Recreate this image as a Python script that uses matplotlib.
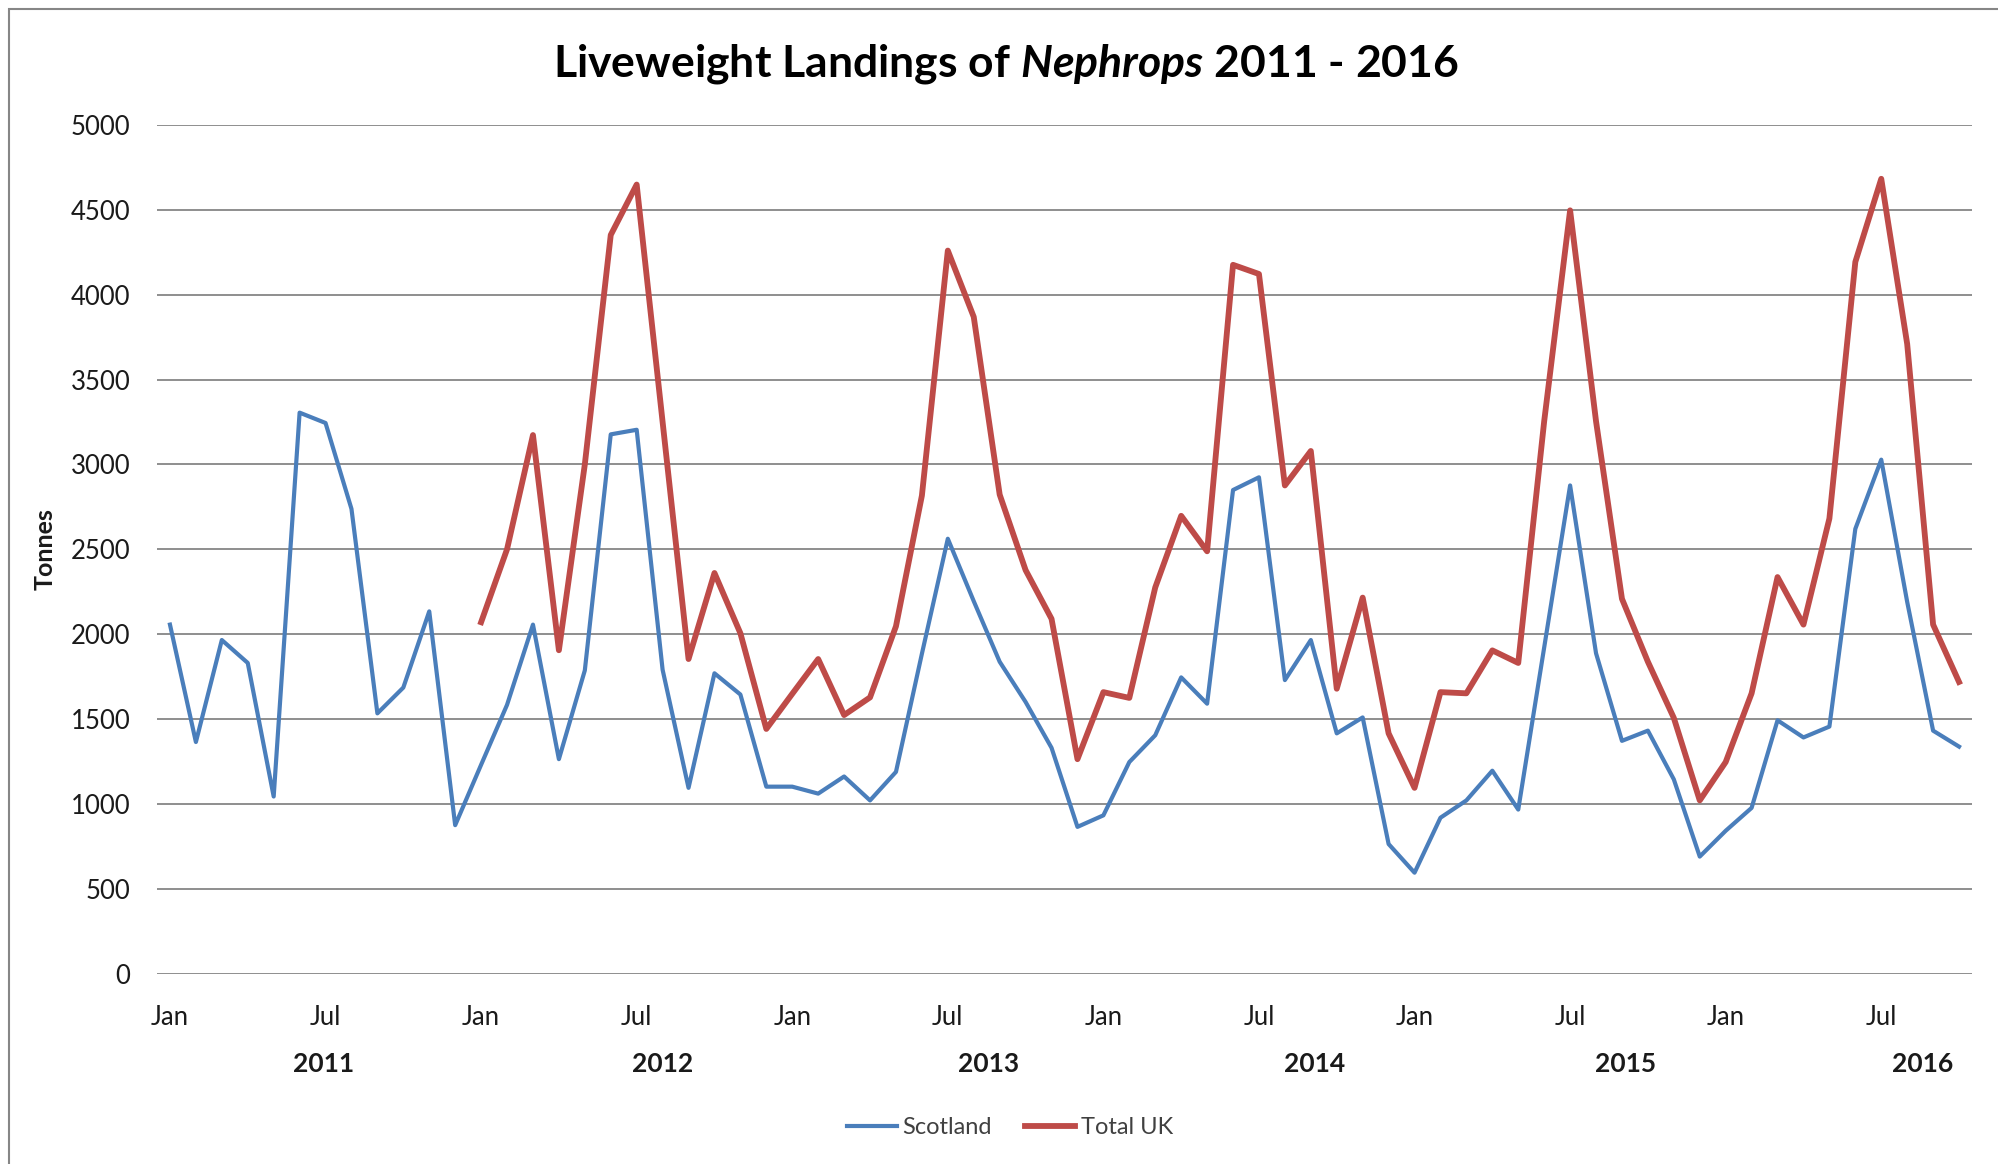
import numpy as np
import matplotlib
matplotlib.use('Agg')
import matplotlib.pyplot as plt
from matplotlib.patches import Rectangle
from matplotlib.transforms import blended_transform_factory

plt.rcParams['font.family'] = ['Lato', 'DejaVu Sans']
plt.rcParams['mathtext.fontset'] = 'custom'
plt.rcParams['mathtext.it'] = 'Lato:italic:bold'
plt.rcParams['mathtext.rm'] = 'Lato:bold'

# monthly landings (tonnes), Jan 2011 - Oct 2016
scotland = [
    2056, 1364, 1965, 1830, 1043, 3305, 3244, 2738, 1533, 1685, 2134, 874,   # 2011
    1230, 1583, 2056, 1263, 1786, 3177, 3204, 1790, 1094, 1769, 1644, 1101,  # 2012
    1101, 1060, 1161, 1020, 1188, 1884, 2562, 2194, 1837, 1600, 1330, 864,   # 2013
    932, 1246, 1404, 1745, 1590, 2849, 2924, 1729, 1965, 1415, 1509, 763,    # 2014
    594, 918, 1020, 1195, 966, 1921, 2876, 1887, 1371, 1431, 1144, 689,      # 2015
    841, 976, 1492, 1391, 1455, 2620, 3028, 2190, 1431, 1337,                # 2016
]

# Total UK only available from Jan 2012
total_uk = [np.nan] * 12 + [
    2070, 2500, 3173, 1905, 3000, 4352, 4649, 3250, 1853, 2360, 2005, 1441,  # 2012
    1648, 1853, 1523, 1627, 2046, 2816, 4260, 3869, 2822, 2377, 2090, 1263,  # 2013
    1658, 1624, 2275, 2697, 2488, 4176, 4122, 2876, 3079, 1678, 2215, 1415,  # 2014
    1094, 1658, 1651, 1904, 1830, 3254, 4497, 3254, 2208, 1837, 1506, 1020,  # 2015
    1246, 1651, 2336, 2056, 2681, 4193, 4683, 3710, 2056, 1718,              # 2016
]

month_labels = ['Jan', 'Jul'] * 6
years = ['2011', '2012', '2013', '2014', '2015', '2016']
# where the year labels sit on the category axis (as drawn in the original)
year_pos = [5.94, 19.0, 31.57, 44.15, 56.15, 67.6]

blue = '#4A7EBB'
red = '#BE4B48'
grid_col = '#868686'

fig = plt.figure(figsize=(19.98, 11.64), dpi=100)
ax = fig.add_axes([157 / 1998, 1 - 973.5 / 1164, (1972 - 157) / 1998, (973.5 - 125) / 1164])

x = np.arange(len(scotland))
ax.plot(x, scotland, color=blue, lw=3.0, label='Scotland', solid_joinstyle='round')
ax.plot(x, total_uk, color=red, lw=4.2, label='Total UK', solid_joinstyle='round')

ax.set_xlim(-0.5, len(scotland) - 0.5)
ax.set_ylim(0, 5000)
ax.set_yticks(np.arange(0, 5001, 500))
ax.yaxis.grid(True, color=grid_col, lw=1.3)
ax.set_axisbelow(True)
for s in ax.spines.values():
    s.set_visible(False)

ax.set_xticks(x[::6])
ax.set_xticklabels(month_labels)
ax.tick_params(axis='both', length=0, labelsize=18.5, labelcolor='#1a1a1a')
ax.tick_params(axis='x', pad=23)
ax.tick_params(axis='y', pad=19)

trans = blended_transform_factory(ax.transData, ax.transAxes)
for yr, p in zip(years, year_pos):
    ax.text(p, -0.1067, yr, transform=trans, ha='center', va='center',
            fontsize=19, fontweight='bold', color='#1a1a1a')

fig.text(0.0225, 0.528, 'Tonnes', rotation=90, ha='center', va='center',
         fontsize=18, fontweight='bold', color='#1a1a1a')

fig.text(0.5035, 0.934, r'Liveweight Landings of $\mathit{Nephrops}$ 2011 - 2016',
         ha='center', va='baseline', fontsize=32, fontweight='bold', color='black')

fig.legend(loc='center', bbox_to_anchor=(0.5055, 0.031), ncol=2, frameon=False,
           fontsize=17, handlelength=2.1, handletextpad=0.25, columnspacing=1.4,
           labelcolor='#404040')

fig.patches.append(Rectangle((9 / 1998, -0.1), 2, 1 - 9 / 1164 + 0.1,
                             transform=fig.transFigure, fill=False,
                             edgecolor=grid_col, lw=1.5))

fig.savefig('out.png', dpi=100, facecolor='white')
